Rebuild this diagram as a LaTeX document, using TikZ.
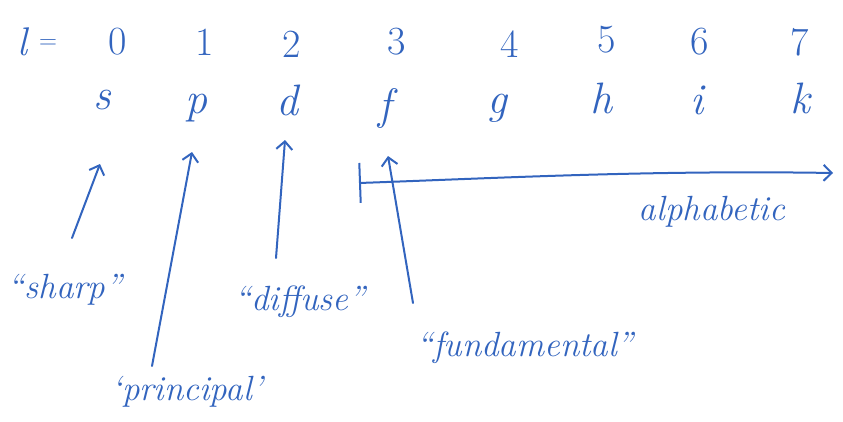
\documentclass[tikz,border=0pt]{standalone}
\usetikzlibrary{arrows.meta}
\definecolor{ink}{RGB}{50,100,190}
\begin{document}
\begin{tikzpicture}[x=1pt,y=-1pt,
  ink/.style={text=ink,inner sep=0pt},
  big/.style={ink,font=\fontsize{40}{40}\selectfont},
  lett/.style={ink,font=\fontsize{44}{44}\selectfont\itshape},
  lab/.style={ink,font=\fontsize{35}{35}\selectfont\itshape},
  arr/.style={draw=ink,line width=2pt,line cap=round,-{Straight Barb[length=8pt,width=16pt,line width=2pt]}}]
\useasboundingbox (0,0) rectangle (843,421);
% top row
\node[big] (l) at (22,42) {\itshape l};
\node[big] (eq) at (48,44) {$=$};
\node[big] (n0) at (118,42) {0};
\node[big] (n1) at (205,42) {1};
\node[big] (n2) at (292,44) {2};
\node[big] (n3) at (397,42) {3};
\node[big] (n4) at (510,44) {4};
\node[big] (n5) at (607,40) {5};
\node[big] (n6) at (700,42) {6};
\node[big] (n7) at (800,42) {7};
% letters
\node[lett] (s) at (102,100) {s};
\node[lett] (p) at (196,108) {p};
\node[lett] (d) at (287,100) {d};
\node[lett] (f) at (385,108) {f};
\node[lett] (g) at (497,108) {g};
\node[lett] (h) at (601,98) {h};
\node[lett] (i) at (697,100) {i};
\node[lett] (k) at (800,98) {k};
% labels
\node[lab] (sharp) at (65,290) {``sharp''};
\node[lab] (principal) at (187,392) {`principal'};
\node[lab] (diffuse) at (300,302) {``diffuse''};
\node[lab] (fund) at (525,348) {``fundamental''};
\node[lab] (alpha) at (712,212) {alphabetic};
% arrow endpoints
\coordinate (sA) at (72,238);  \coordinate (sB) at (100,164);
\coordinate (pA) at (152,366); \coordinate (pB) at (192,152);
\coordinate (dA) at (276,258); \coordinate (dB) at (285,140);
\coordinate (fA) at (413,303); \coordinate (fB) at (388,156);
\coordinate (aA) at (359,183); \coordinate (aB) at (833,173);
\draw[arr] (sA) -- (sB);
\draw[arr] (pA) -- (pB);
\draw[arr] (dA) -- (dB);
\draw[arr] (fA) -- (fB);
\draw[draw=ink,line width=2pt,line cap=round,{Bar[width=40pt,line width=2pt]}-{Straight Barb[length=8pt,width=16pt,line width=2pt]}] (aA) .. controls (500,178) and (650,170) .. (aB);
\end{tikzpicture}
\end{document}
